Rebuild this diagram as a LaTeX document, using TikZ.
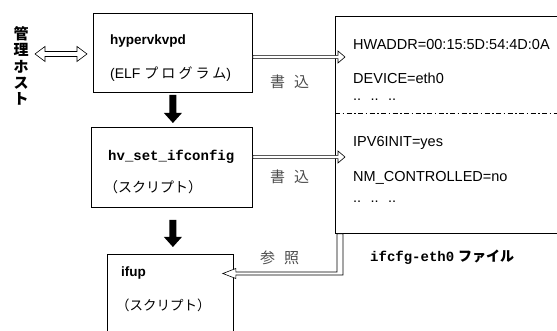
\documentclass[tikz,border=0pt]{standalone}
\usepackage{fontspec}
\setmainfont{Liberation Sans}
\newfontfamily\jp{Noto Sans CJK JP}
\newfontfamily\mono{Liberation Mono}
\usetikzlibrary{calc}
\tikzset{
  box/.style={draw, line width=0.8pt, inner sep=0pt, anchor=north west},
  lbl/.style={inner sep=0pt, anchor=west},
  filetxt/.style={lbl, font=\fontsize{14.5}{14.5}\selectfont},
  harrow/.style={draw, line width=0.6pt, fill=white, line join=miter},
  barrow/.style={fill=black},
  jpgray/.style={lbl, font=\jp\fontsize{15}{15}\selectfont, text=black!70},
}
% rightward hollow arrow: start, tip, half shaft, half head, head length
\newcommand\hollowRight[5]{%
  \path[harrow] let \p1=(#1), \p2=(#2) in
    (\x1,\y1+#3) -- (\x2-#5,\y1+#3) -- (\x2-#5,\y1+#4) -- (\x2,\y1)
    -- (\x2-#5,\y1-#4) -- (\x2-#5,\y1-#3) -- (\x1,\y1-#3) -- cycle;}
% downward black arrow: start, tip
\newcommand\blackDown[2]{%
  \path[barrow] let \p1=(#1), \p2=(#2) in
    (\x1-3.5pt,\y1) -- (\x1-3.5pt,\y2+10pt) -- (\x1-9pt,\y2+10pt) -- (\x1,\y2)
    -- (\x1+9pt,\y2+10pt) -- (\x1+3.5pt,\y2+10pt) -- (\x1+3.5pt,\y1) -- cycle;}
\begin{document}
\begin{tikzpicture}[x=1pt, y=-1pt]
\useasboundingbox (0,0) rectangle (557,331);

% boxes
\node[box, minimum width=159pt, minimum height=79pt] (b1) at (93,13) {};
\node[box, minimum width=161pt, minimum height=80pt] (b2) at (91,127) {};
\node[box, minimum width=126pt, minimum height=90pt] (b3) at (107,254) {};
\node[box, minimum width=240pt, minimum height=217pt] (file) at (335,16) {};

% box texts
\node[lbl, font=\bfseries\fontsize{13.5}{13.5}\selectfont] (t1) at (110,41) {hypervkvpd};
\node[lbl, font=\fontsize{14}{14}\selectfont] (t2) at (110,74) {(ELF {\jp\addfontfeature{LetterSpace=22}プログラム})};
\node[lbl, font=\mono\bfseries\fontsize{14}{14}\selectfont] (t3) at (108,157) {hv\_set\_ifconfig};
\node[lbl, font=\jp\fontsize{14}{14}\selectfont] (t4) at (104,187) {（スクリプト）};
\node[lbl, font=\bfseries\fontsize{13.5}{13.5}\selectfont] (t5) at (121,273) {ifup};
\node[lbl, font=\jp\fontsize{13.5}{13.5}\selectfont] (t6) at (116,305) {（スクリプト）};

% file contents
\node[filetxt] (f1) at (353,45) {HWADDR=00:15:5D:54:4D:0A};
\node[filetxt] (f2) at (353,78) {DEVICE=eth0};
\node[filetxt] (f3) at (353,100) {.. \ .. \ ..};
\node[filetxt] (f4) at (353,143) {IPV6INIT=yes};
\node[filetxt] (f5) at (353,178) {NM\_CONTROLLED=no};
\node[filetxt] (f6) at (353,202) {.. \ .. \ ..};
\draw[line width=0.6pt, dash pattern=on 5pt off 2.5pt on 1.5pt off 2.5pt]
  (file.west |- 0,113) -- (557,113);

% caption
\node[lbl, font=\fontsize{14}{14}\selectfont] (cap) at (370,257)
  {{\mono\bfseries ifcfg-eth0} {\jp\bfseries ファイル}};

% management host
\node[font=\jp\bfseries\fontsize{15}{16.4}\selectfont, align=center, inner sep=0pt]
  (host) at (21,66) {管\\理\\ホ\\ス\\ト};

% double hollow arrow host <-> b1
\coordinate (dl) at (35,54);
\coordinate (dr) at (87,54);
\path[harrow] let \p1=(dl), \p2=(dr) in
  (\x1,\y1) -- (\x1+10pt,\y1+7.5pt) -- (\x1+10pt,\y1+2.5pt) -- (\x2-10pt,\y1+2.5pt)
  -- (\x2-10pt,\y1+7.5pt) -- (\x2,\y1) -- (\x2-10pt,\y1-7.5pt) -- (\x2-10pt,\y1-2.5pt)
  -- (\x1+10pt,\y1-2.5pt) -- (\x1+10pt,\y1-7.5pt) -- cycle;

% write arrows
\coordinate (a1s) at (b1.east |- 0,57);
\coordinate (a1e) at ($(file.west |- 0,57)+(10,0)$);
\hollowRight{a1s}{a1e}{1.6pt}{6pt}{7pt}
\coordinate (a2s) at (b2.east |- 0,157);
\coordinate (a2e) at ($(file.west |- 0,157)+(10,0)$);
\hollowRight{a2s}{a2e}{1.6pt}{6pt}{7pt}
\node[jpgray] (w1) at (270,82) {書\hspace{9pt}込};
\node[jpgray] (w2) at (270,177) {書\hspace{9pt}込};

% reference arrow file -> ifup
\coordinate (ls) at ($(file.south west)+(5,0)$);
\coordinate (le) at ($(b3.east |- 0,273.5)+(-11,0)$);
\path[harrow] let \p1=(ls), \p2=(le) in
  (\x1+3pt,\y1) -- (\x1+3pt,\y2-1.5pt) -- (\x2+13pt,\y2-1.5pt) -- (\x2+13pt,\y2-5pt)
  -- (\x2,\y2) -- (\x2+13pt,\y2+5pt) -- (\x2+13pt,\y2+1.5pt) -- (\x1-3pt,\y2+1.5pt)
  -- (\x1-3pt,\y1) -- cycle;
\node[jpgray] (r1) at (260,258) {参\hspace{9pt}照};

% black flow arrows
\coordinate (d1s) at ($(b1.south)+(0,2)$);
\coordinate (d1e) at ($(b1.south |- b2.north)+(0,-4)$);
\blackDown{d1s}{d1e}
\coordinate (d2s) at ($(b1.south |- b2.south)+(0,12)$);
\coordinate (d2e) at ($(b1.south |- b3.north)+(0,-7)$);
\blackDown{d2s}{d2e}
\end{tikzpicture}
\end{document}
